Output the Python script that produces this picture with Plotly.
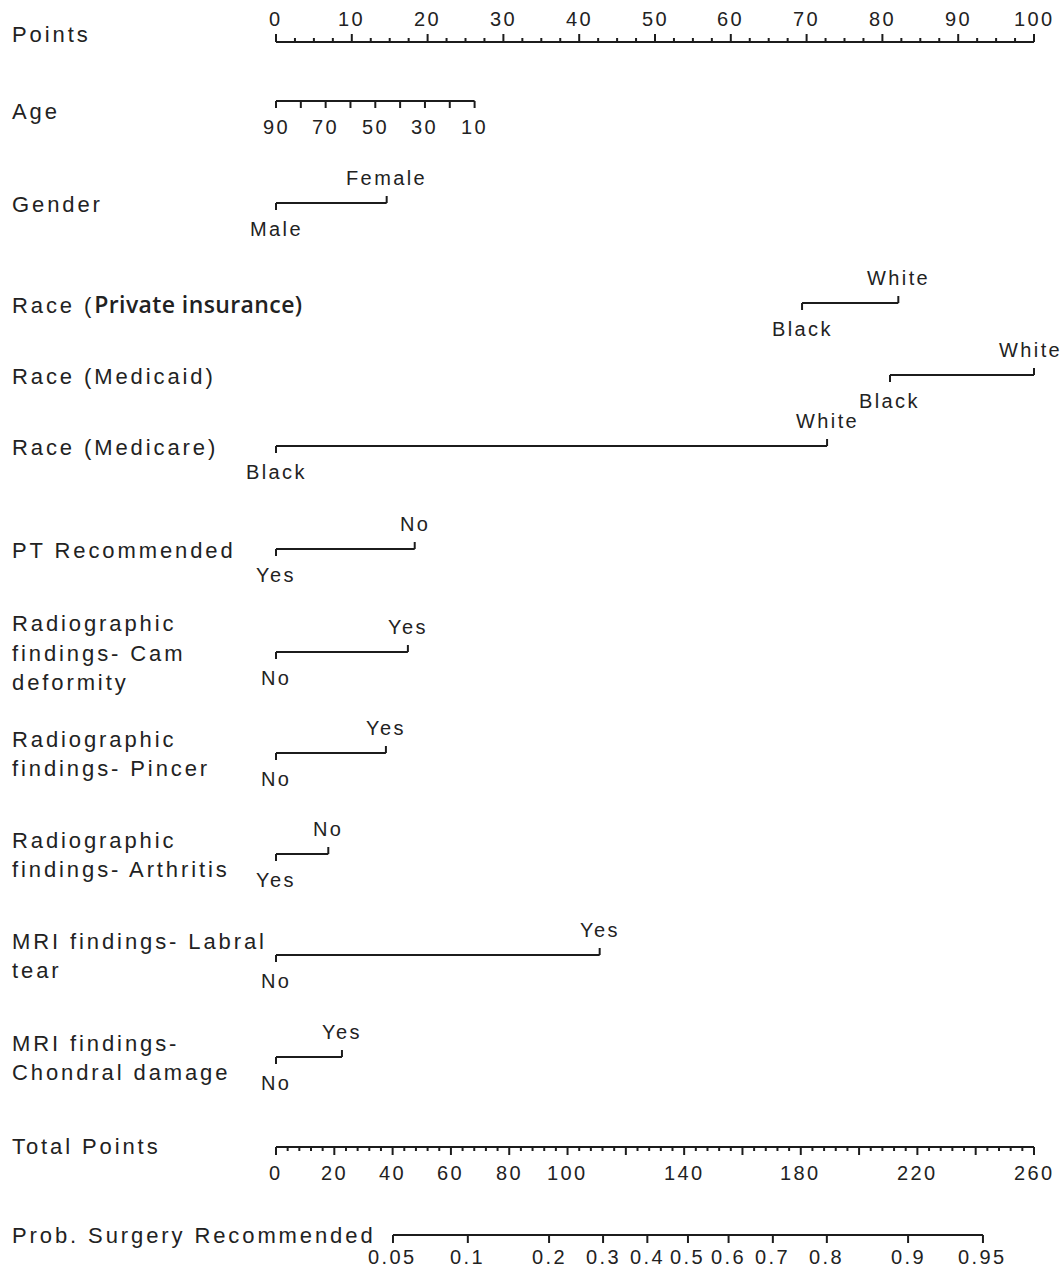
import numpy as np
import plotly.graph_objects as go

# ---------------- data ----------------
# Points scale
points_major = list(range(0, 101, 10))
points_minor_step = 2.5

# Age scale: age value -> points (linear)
age_ticks = [90, 80, 70, 60, 50, 40, 30, 20, 10]
age_tick_labels = [90, 70, 50, 30, 10]
age_points_range = [0.0, 26.2]          # points at age 90 and at age 10

# Two-level predictors: (low-points level, high-points level) and their points
gender_levels = ["Male", "Female"]
gender_points = [0.0, 14.6]
race_private_levels = ["Black", "White"]
race_private_points = [69.4, 82.1]
race_medicaid_levels = ["Black", "White"]
race_medicaid_points = [81.0, 100.0]
race_medicare_levels = ["Black", "White"]
race_medicare_points = [0.0, 72.7]
pt_levels = ["Yes", "No"]
pt_points = [0.0, 18.3]
cam_levels = ["No", "Yes"]
cam_points = [0.0, 17.4]
pincer_levels = ["No", "Yes"]
pincer_points = [0.0, 14.5]
arthritis_levels = ["Yes", "No"]
arthritis_points = [0.0, 6.9]
labral_levels = ["No", "Yes"]
labral_points = [0.0, 42.7]
chondral_levels = ["No", "Yes"]
chondral_points = [0.0, 8.7]

# Total points scale
total_points_max = 260
total_major = list(range(0, 261, 20))
total_tick_labels = [0, 20, 40, 60, 80, 100, 140, 180, 220, 260]
total_minor_step = 4

# Probability scale (logistic model on total points)
prob_ticks = [0.05, 0.1, 0.2, 0.3, 0.4, 0.5, 0.6, 0.7, 0.8, 0.9, 0.95]
lp_intercept = -4.112
lp_slope = 0.0291

# ---------------- layout ----------------
W, H = 1064, 1273
X0_PX, PX_PER_PT = 276, 7.58
LINE = "#1c1c1c"
FONT = "Liberation Sans, Arial, sans-serif"
TITLE_SIZE, TITLE_LS = 22, 2.9
VALUE_SIZE, VALUE_LS = 20, 2.4

rows = [
    ("Race (<span style=\"font-family:Open Sans;font-weight:600;font-size:23px;letter-spacing:0.4px\">Private insurance)</span>",
     race_private_levels, race_private_points, 303),
    ("Gender", gender_levels, gender_points, 203),
    ("Race (Medicaid)", race_medicaid_levels, race_medicaid_points, 375),
    ("Race (Medicare)", race_medicare_levels, race_medicare_points, 446),
    ("PT Recommended", pt_levels, pt_points, 549),
    ("Radiographic<br>findings- Cam<br>deformity", cam_levels, cam_points, 652),
    ("Radiographic<br>findings- Pincer", pincer_levels, pincer_points, 753),
    ("Radiographic<br>findings- Arthritis", arthritis_levels, arthritis_points, 854),
    ("MRI findings- Labral<br>tear", labral_levels, labral_points, 955),
    ("MRI findings-<br>Chondral damage", chondral_levels, chondral_points, 1057),
]

segs_x, segs_y = [], []
annotations = []


def seg(x0, y0, x1, y1):
    segs_x.extend([x0, x1, None])
    segs_y.extend([y0, y1, None])


def label(x, y, text, size=VALUE_SIZE, ls=VALUE_LS, xanchor="center", xref="x", xshift=0):
    annotations.append(dict(
        x=x, y=y, xref=xref, yref="y", xanchor=xanchor, yanchor="middle",
        text=f"<span style=\"letter-spacing:{ls}px\">{text}</span>",
        showarrow=False, xshift=xshift,
        font=dict(family=FONT, size=size, color="#222"),
    ))


def row_title(text, y_center, spacing=29.5):
    lines = text.split("<br>")
    n = len(lines)
    for i, ln in enumerate(lines):
        yy = y_center + (i - (n - 1) / 2) * spacing
        label(10 / W, yy, ln, size=TITLE_SIZE, ls=TITLE_LS, xanchor="left", xref="paper")


# Points axis
y_pts = 42
seg(points_major[0], y_pts, points_major[-1], y_pts)
for v in np.arange(0, 100 + 1e-9, points_minor_step):
    major = abs(v / 10 - round(v / 10)) < 1e-9
    seg(v, y_pts, v, y_pts - (8 if major else 4))
for v in points_major:
    label(v, 19, str(v))
row_title("Points", 34)

# Age axis
y_age = 101
age_pts = [age_points_range[0] + (90 - a) / 80 * (age_points_range[1] - age_points_range[0]) for a in age_ticks]
seg(min(age_pts), y_age, max(age_pts), y_age)
for a, p in zip(age_ticks, age_pts):
    seg(p, y_age, p, y_age + 7)
    if a in age_tick_labels:
        label(p, 127, str(a))
row_title("Age", 111)

# Two-level predictors
for title, levels, pts, y in rows:
    seg(pts[0], y, pts[1], y)
    seg(pts[0], y, pts[0], y + 7)
    seg(pts[1], y, pts[1], y - 7)
    label(pts[0], y + 26, levels[0])
    # keep a label at the right end of the scale inside the canvas
    label(pts[1], y - 25, levels[1], xshift=-4 if pts[1] >= 100 else 0)
    row_title(title, y + 1)

# Total points axis
y_tot = 1147
scale = 100 / total_points_max
seg(0, y_tot, total_points_max * scale, y_tot)
for v in range(0, total_points_max + 1, total_minor_step):
    major = v % 20 == 0
    seg(v * scale, y_tot, v * scale, y_tot + (8 if major else 4))
for v in total_tick_labels:
    label(v * scale, 1173, str(v))
row_title("Total Points", 1146)

# Probability axis
y_prob = 1235
prob_x = [(np.log(p / (1 - p)) - lp_intercept) / lp_slope * scale for p in prob_ticks]
seg(prob_x[0], y_prob, prob_x[-1], y_prob)
for p, x in zip(prob_ticks, prob_x):
    seg(x, y_prob, x, y_prob + 8)
    label(x, 1257, f"{p:g}")
row_title("Prob. Surgery Recommended", 1235)

fig = go.Figure(go.Scatter(
    x=segs_x, y=segs_y, mode="lines",
    line=dict(color=LINE, width=2), hoverinfo="skip", showlegend=False,
))

fig.update_layout(
    width=W, height=H, margin=dict(l=0, r=0, t=0, b=0),
    paper_bgcolor="white", plot_bgcolor="white",
    xaxis=dict(range=[-X0_PX / PX_PER_PT, (W - X0_PX) / PX_PER_PT], visible=False, fixedrange=True),
    yaxis=dict(range=[H, 0], visible=False, fixedrange=True),
    annotations=annotations,
)

fig.write_html("out.html")
